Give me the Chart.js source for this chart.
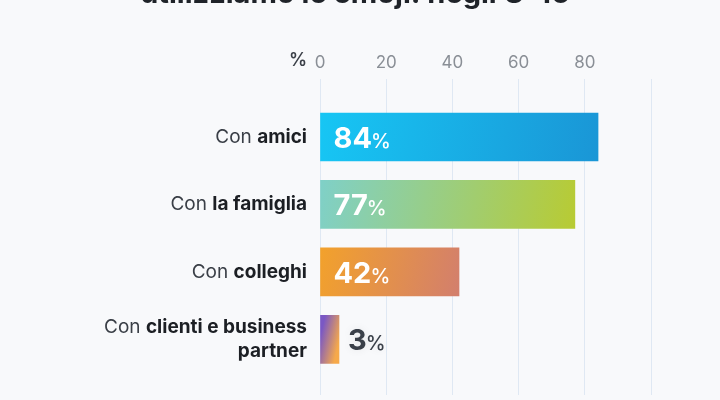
<!DOCTYPE html>
<html>
<head>
<meta charset="utf-8">
<script src="https://cdn.jsdelivr.net/npm/chart.js@4"></script>
<style>
    html, body { margin: 0; padding: 0; background: #f8f9fb; }
    #wrap { width: 720px; height: 400px; position: relative; }
</style>
</head>
<body>
<div id="wrap"><canvas id="chart"></canvas></div>
<script>
// Dati
const labelPrefix = ['Con', 'Con', 'Con', 'Con'];
const labelBold = [['amici'], ['la famiglia'], ['colleghi'], ['clienti e business', 'partner']];
const values = [84, 77, 42, 3];
const xTicks = [0, 20, 40, 60, 80, 100];
const titleText = 'utilizziamo le emoji: negli U-16';

// Colori dei gradienti per barra
const barGradients = [
    ['#17c6f4', '#1a96d6'],
    ['#7fd0c8', '#b8cb33'],
    ['#f2a12c', '#d37f6c'],
    ['#7a58c4', '#f6a94a']
];

const FONT = "Inter, Roboto, 'Noto Sans', sans-serif";
const MIN_BAR = 19;

function barColor(ctx) {
    const chart = ctx.chart;
    const x = chart.scales.x, y = chart.scales.y;
    if (!chart.chartArea || !x || !y) return barGradients[ctx.dataIndex][0];
    const i = ctx.dataIndex;
    const x0 = x.getPixelForValue(0);
    const x1 = Math.max(x.getPixelForValue(values[i]), x0 + MIN_BAR);
    const yc = y.getPixelForValue(i);
    const dy = Math.min(24, (x1 - x0) * 0.12);
    const g = chart.ctx.createLinearGradient(x0, yc - dy, x1, yc + dy);
    g.addColorStop(0, barGradients[i][0]);
    g.addColorStop(1, barGradients[i][1]);
    return g;
}

// Plugin: titolo tagliato, etichette categoria, valori e "%"
const textPlugin = {
    id: 'textPlugin',
    afterDatasetsDraw(chart) {
        const ctx = chart.ctx;
        const y = chart.scales.y;
        const bars = chart.getDatasetMeta(0).data;
        ctx.save();

        // titolo (tagliato in alto)
        ctx.fillStyle = '#1f2329';
        ctx.font = 'bold 29px ' + FONT;
        ctx.textAlign = 'center';
        ctx.textBaseline = 'alphabetic';
        ctx.fillText(titleText, 355, 3, 500);

        // "%" accanto alle etichette dell'asse
        ctx.fillStyle = '#3b4048';
        ctx.font = '600 18px ' + FONT;
        ctx.textAlign = 'right';
        ctx.textBaseline = 'middle';
        ctx.fillText('%', 307, 61);

        // etichette categoria
        const right = 307;
        labelBold.forEach((lines, i) => {
            const yc = y.getPixelForValue(i);
            const lh = 24;
            const top = yc - (lines.length - 1) * lh / 2;
            lines.forEach((line, k) => {
                const ly = top + k * lh;
                ctx.textBaseline = 'middle';
                ctx.textAlign = 'right';
                ctx.font = 'bold 19px ' + FONT;
                ctx.fillStyle = '#1c1f24';
                ctx.fillText(line, right, ly);
                if (k === 0) {
                    const w = ctx.measureText(line).width;
                    ctx.font = '19px ' + FONT;
                    ctx.fillStyle = '#3a3f47';
                    ctx.fillText(labelPrefix[i] + ' ', right - w, ly);
                }
            });
        });

        // valori
        values.forEach((v, i) => {
            const bar = bars[i];
            const yc = bar.y;
            const x0 = bar.base;
            const x1 = bar.x;
            const inside = (x1 - x0) > 60;
            const tx = inside ? x0 + 13 : x1 + 9;
            ctx.textAlign = 'left';
            ctx.textBaseline = 'alphabetic';
            ctx.fillStyle = inside ? '#ffffff' : '#3a4049';
            if (!inside) {
                ctx.shadowColor = 'rgba(0,0,0,0.08)';
                ctx.shadowBlur = 8;
            }
            ctx.font = 'bold 29px ' + FONT;
            ctx.fillText(String(v), tx, yc + 11);
            const w = ctx.measureText(String(v)).width;
            ctx.font = '500 20px ' + FONT;
            ctx.fillText('%', tx + w - 1, yc + 11);
            ctx.shadowBlur = 0;
            ctx.shadowColor = 'transparent';
        });

        ctx.restore();
    }
};

const bgPlugin = {
    id: 'bg',
    beforeDraw(chart) {
        const ctx = chart.ctx;
        ctx.save();
        ctx.fillStyle = '#f8f9fb';
        ctx.fillRect(0, 0, chart.width, chart.height);
        ctx.restore();
    }
};

new Chart(document.getElementById('chart'), {
    type: 'bar',
    data: {
        datasets: [{
            data: values.map((v, i) => ({ x: v, y: i })),
            backgroundColor: barColor,
            borderWidth: 0,
            barThickness: 48,
            minBarLength: MIN_BAR
        }]
    },
    options: {
        indexAxis: 'y',
        responsive: true,
        maintainAspectRatio: false,
        animation: false,
        layout: { padding: { left: 320, right: 69, top: 47, bottom: 5 } },
        plugins: {
            legend: { display: false },
            tooltip: { enabled: false }
        },
        scales: {
            x: {
                type: 'linear',
                position: 'top',
                min: 0,
                max: 100,
                afterBuildTicks(axis) { axis.ticks = xTicks.map(v => ({ value: v })); },
                border: { display: false },
                grid: { color: '#dfe8f3', lineWidth: 1, drawTicks: false },
                ticks: {
                    color: '#8a8f96',
                    padding: 6,
                    font: { family: FONT, size: 17 },
                    callback: v => v === 100 ? '' : v
                }
            },
            y: {
                type: 'linear',
                reverse: true,
                offset: false,
                grid: { offset: false },
                min: -0.853,
                max: 3.824,
                display: false
            }
        }
    },
    plugins: [bgPlugin, textPlugin]
});
</script>
</body>
</html>
